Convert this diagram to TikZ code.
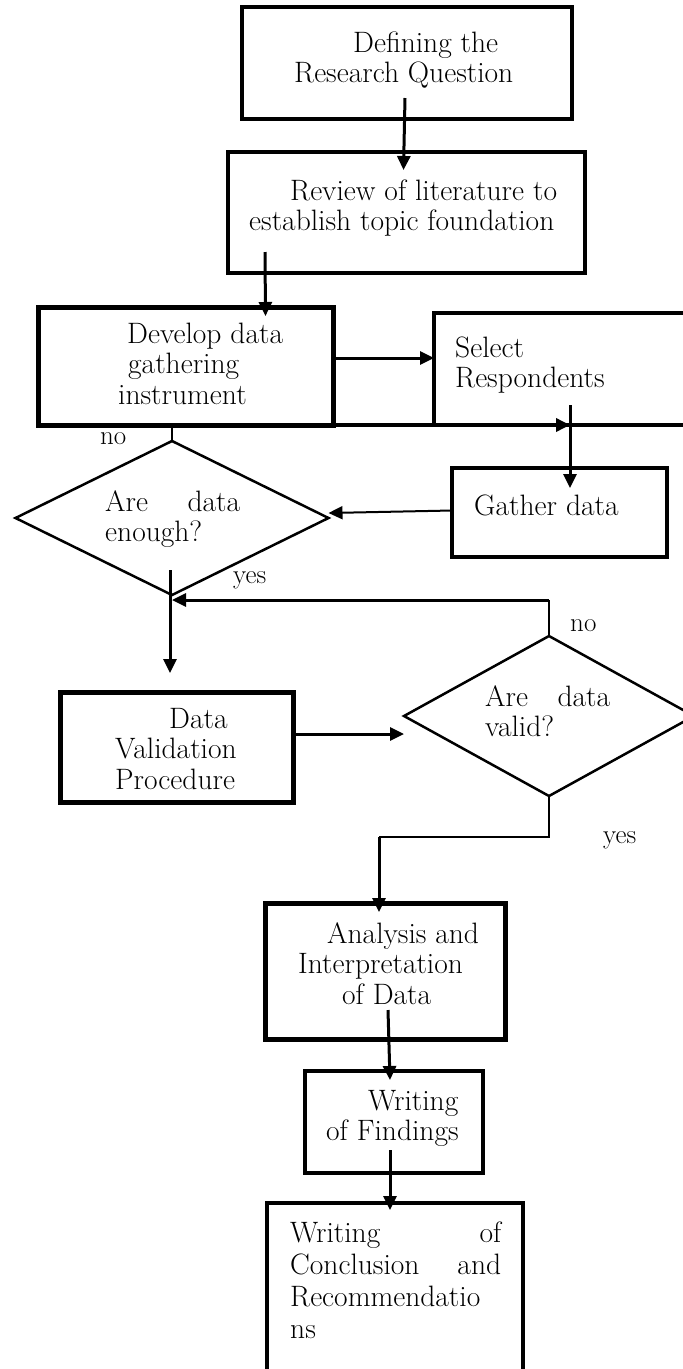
\documentclass[tikz,border=0pt]{standalone}
\usepackage{fontspec}
\usetikzlibrary{arrows.meta,shapes.geometric,calc}
\newcommand\topstrut{\rule{0pt}{21pt}}
\tikzset{
  box/.style={draw, rectangle, line width=3.5pt, anchor=north west, inner sep=0pt, outer sep=0pt},
  boxthick/.style={box, line width=5pt},
  decision/.style={draw, diamond, line width=2.5pt, inner sep=0pt, outer sep=0pt},
  txt/.style={anchor=north west, inner sep=0pt, align=left, font=\fontsize{29.5}{30.5}\selectfont},
  lbl/.style={anchor=base west, inner sep=0pt, font=\fontsize{27}{30}\selectfont},
  link/.style={->, line width=3pt},
  thinlink/.style={line width=1.5pt}
}
\begin{document}
\begin{tikzpicture}[x=1pt, y=-1pt, >={Triangle[length=14pt,width=13pt]}]
\fill[white] (0,0) rectangle (683,1369);
\useasboundingbox (0,0) rectangle (683,1369);
\clip (0,0) rectangle (683,1369);

% boxes and decisions
\node[box, minimum width=330pt, minimum height=112pt] (q) at (242,7) {};
\node[box, minimum width=357pt, minimum height=121pt] (rev) at (228,152) {};
\node[boxthick, minimum width=295pt, minimum height=118pt] (dev) at (38,307) {};
\node[box, minimum width=266pt, minimum height=112pt] (sel) at (434,313) {};
\node[box, minimum width=215pt, minimum height=89pt] (gat) at (452,468) {};
\node[decision, minimum width=313pt, minimum height=154pt] (enough) at (172,518) {};
\node[boxthick, minimum width=233pt, minimum height=110pt] (val) at (60,692) {};
\node[decision, minimum width=290pt, minimum height=160pt] (valid) at (549,716) {};
\node[boxthick, minimum width=240pt, minimum height=136pt] (ana) at (265,903) {};
\node[box, minimum width=178pt, minimum height=102pt] (find) at (305,1071) {};
\node[box, minimum width=256pt, minimum height=200pt] (conc) at (267,1203) {};

% texts
\node[txt] (qt) at (294,31) {\hspace*{59pt}\topstrut Defining the\\Research Question};
\node[txt] (revt) at (249,179) {\hspace*{41pt}\topstrut Review of literature to\\establish topic foundation};
\node[txt] (devt) at (118,322) {\hspace*{9pt}\topstrut Develop data\\\hspace*{10pt}gathering\\instrument};
\node[txt] (selt) at (455,336) {\topstrut Select\\Respondents};
\node[txt] (gatt) at (474,494) {\topstrut Gather data};
\node[txt] (enought) at (105,490) {\topstrut\hbox to 135pt{Are\hfill data}\\enough?};
\node[txt] (valt) at (115,707) {\hspace*{54pt}\topstrut Data\\Validation\\Procedure};
\node[txt] (validt) at (485,685) {\topstrut\hbox to 125pt{Are\hfill data}\\valid?};
\node[txt] (anat) at (298,922) {\hspace*{29pt}\topstrut Analysis and\\Interpretation\\\hspace*{44pt}of Data};
\node[txt] (findt) at (326,1089) {\hspace*{42pt}\topstrut Writing\\of Findings};
\node[txt, font=\fontsize{29.5}{32}\selectfont] (conct) at (290,1221) {\topstrut\hbox to 211pt{Writing\hfill of}\\\hbox to 211pt{Conclusion\hfill and}\\Recommendatio\\ns};

\node[lbl] (no1) at (100,444) {no};
\node[lbl] (yes1) at (233,583) {yes};
\node[lbl] (no2) at (570,631) {no};
\node[lbl] (yes2) at (603,843) {yes};

% connectors
\draw[link] ($(q.south)+(-2,-21)$) -- ($(rev.north)+(-3,18)$);
\draw[link] ($(rev.south west)+(37,-21)$) -- ($(dev.north)+(80,9)$);
\path ($(dev.east)+(0,-8)$) coordinate (devout);
\draw[link] (devout) -- (devout -| sel.west);
\coordinate (gatin) at ($(gat.north)+(10.5,0)$);
\draw[thinlink] (enough.north) -- (enough.north |- dev.south);
\draw[link, line width=4pt] (enough.north |- dev.south) -- (gatin |- dev.south);
\draw[link] ($(gatin |- sel.south)+(0,-20)$) -- ($(gatin)+(0,20)$);
\draw[link, line width=2pt] ($(gat.west)+(0,-2)$) -- ($(enough.east)+(0,-5)$);
\draw[link] ($(enough.south)+(-2,-25)$) -- ($(val.north)+(-6.5,-19)$);
\coordinate (back) at ($(enough.south)+(0,5)$);
\draw[thinlink] (valid.north) -- (valid.north |- back);
\draw[link] (valid.north |- back) -- (back);
\path ($(val.east)+(0,-13)$) coordinate (valout);
\draw[link] (valout) -- (valout -| valid.west);
\coordinate (down) at ($(valid.south)+(-170,41)$);
\draw[thinlink] (valid.south) |- (down);
\draw[link] (down) -- ($(down |- ana.north)+(0,9)$);
\draw[link] ($(ana.south)+(3,-29)$) -- ($(find.north)+(-4,9)$);
\draw[link] ($(find.south)+(-4,-23)$) -- ($(conc.north)+(-5,7)$);
\end{tikzpicture}
\end{document}
